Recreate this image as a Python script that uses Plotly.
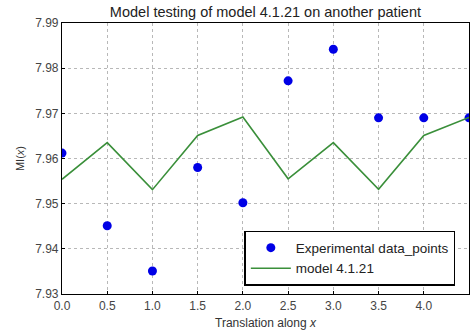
import plotly.graph_objects as go

x_vals = [0.0, 0.5, 1.0, 1.5, 2.0, 2.5, 3.0, 3.5, 4.0, 4.5]
exp_points = [7.9612, 7.9451, 7.9351, 7.9580, 7.9502, 7.9772, 7.9842, 7.9690, 7.9690, 7.9690]
model_vals = [7.9554, 7.9635, 7.9531, 7.9651, 7.9692, 7.9555, 7.9635, 7.9532, 7.9651, 7.9691]
x_ticks = [0.0, 0.5, 1.0, 1.5, 2.0, 2.5, 3.0, 3.5, 4.0, 4.5]
y_ticks = [7.93, 7.94, 7.95, 7.96, 7.97, 7.98, 7.99]

font_family = "Liberation Sans, Arial, sans-serif"

fig = go.Figure()
fig.add_trace(go.Scatter(
    x=x_vals, y=exp_points, mode="markers", name="Experimental data_points",
    marker=dict(color="#0000e6", size=9, line=dict(width=0)),
))
fig.add_trace(go.Scatter(
    x=x_vals, y=model_vals, mode="lines", name="model 4.1.21",
    line=dict(color="#3a8f3a", width=1.6),
))

axis_common = dict(
    showgrid=True, gridcolor="#b8b8b8", griddash="dot", gridwidth=1,
    showline=True, linecolor="#000000", linewidth=1.2, mirror=True,
    ticks="inside", ticklen=3, tickcolor="#000000",
    tickfont=dict(family=font_family, size=12, color="#444444"),
    zeroline=False,
)

fig.update_layout(
    width=474, height=334,
    margin=dict(l=62, r=5, t=23, b=40),
    paper_bgcolor="white", plot_bgcolor="white",
    title=dict(text="Model testing of model 4.1.21 on another patient",
               x=0.56, xanchor="center", y=0.965, yanchor="middle",
               font=dict(family=font_family, size=14.5, color="#222222")),
    xaxis=dict(range=[0, 4.5], tickvals=x_ticks, tickformat=".1f",
               title=dict(text="Translation along <i>x</i>", standoff=7,
                          font=dict(family=font_family, size=12, color="#333333")),
               **axis_common),
    yaxis=dict(range=[7.93, 7.99], tickvals=y_ticks, tickformat=".2f",
               title=dict(text="MI(<i>x</i>)", standoff=8,
                          font=dict(family=font_family, size=11, color="#333333")),
               **axis_common),
    showlegend=True,
    legend=dict(x=0.448, y=0.03, xanchor="left", yanchor="bottom",
                bgcolor="white", bordercolor="#000000", borderwidth=1.5,
                font=dict(family=font_family, size=13.5, color="#222222"),
                itemwidth=40, tracegroupgap=0),
)

fig.write_html("out.html")
